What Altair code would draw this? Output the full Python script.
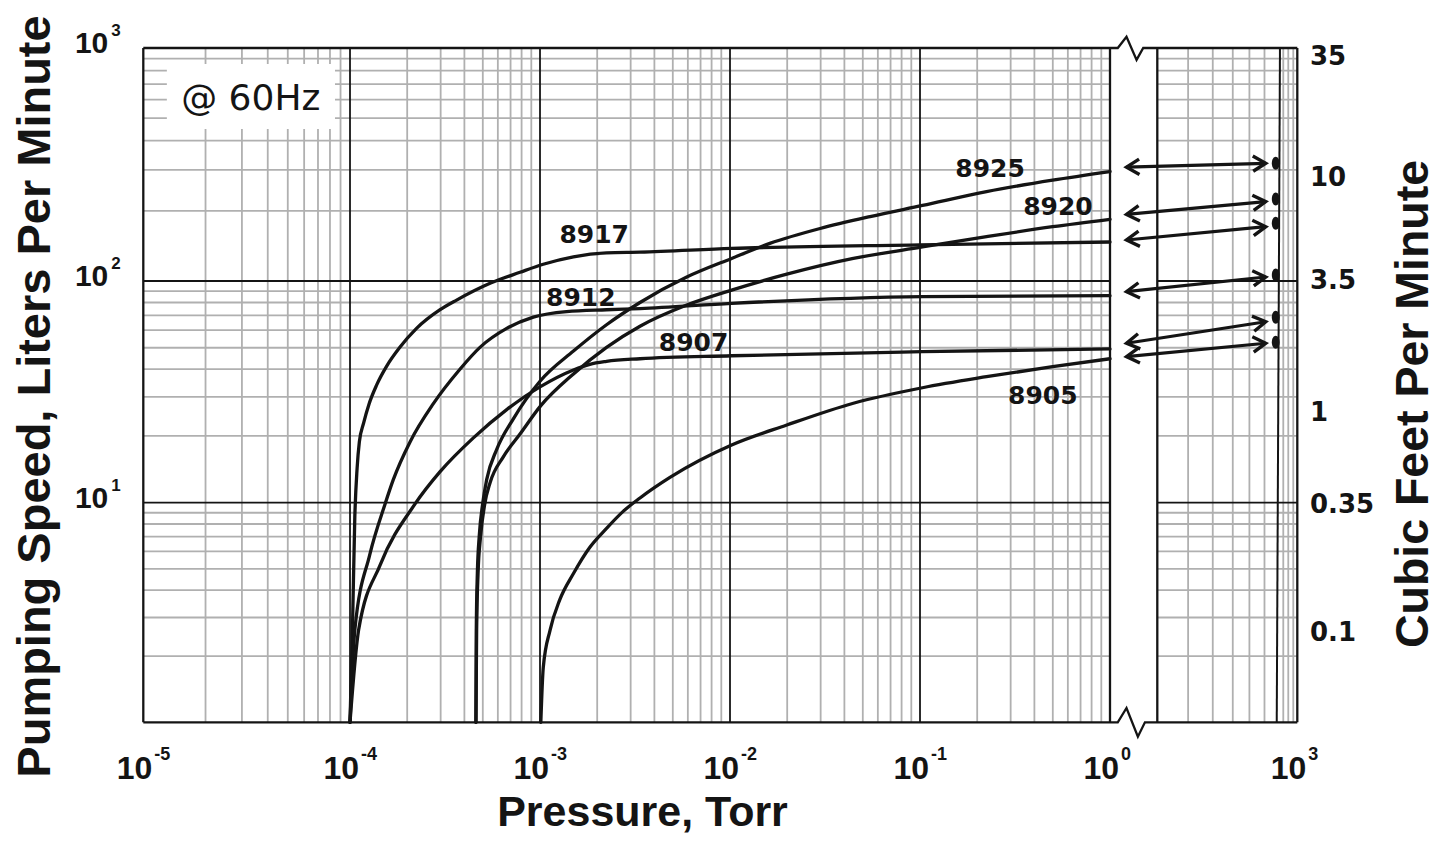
import math
import altair as alt
import pandas as pd

# ------------------------------------------------------------------ data
# pumping-speed curves: pressure (Torr) and speed (L/min)
P_8925 = [4.60e-4, 4.62e-4, 4.68e-4, 4.79e-4, 4.99e-4, 5.24e-4, 5.92e-4, 7.24e-4,
          1.00e-3, 1.50e-3, 2.24e-3, 3.36e-3, 5.92e-3, 1.02e-2, 1.62e-2,
          2.98e-2, 5.46e-2, 0.103, 0.224, 0.499, 1.0]
S_8925 = [1.0, 2.63, 4.76, 7.06, 9.87, 12.7, 17.4, 23.9, 35.3, 48.3, 63.5, 80.0,
          104, 125, 145, 168, 189, 211, 242, 271, 295]

P_8920 = [4.60e-4, 4.64e-4, 4.72e-4, 4.87e-4, 5.12e-4, 5.46e-4, 6.41e-4, 7.85e-4,
          1.01e-3, 1.50e-3, 2.24e-3, 3.36e-3, 5.92e-3, 1.02e-2, 1.99e-2,
          4.46e-2, 0.103, 0.224, 0.499, 1.0]
S_8920 = [1.0, 2.63, 4.76, 7.06, 9.87, 12.3, 16.1, 20.4, 27.4, 38.1, 50.2, 62.5,
          77.9, 91.0, 107, 125, 140, 155, 171, 184]

P_8917 = [1.00e-4, 1.03e-4, 1.06e-4, 1.09e-4, 1.12e-4, 1.18e-4, 1.26e-4, 1.38e-4,
          1.56e-4, 1.83e-4, 2.24e-4, 2.98e-4, 3.64e-4, 5.46e-4, 7.85e-4, 1.04e-3,
          1.50e-3, 2.24e-3, 3.36e-3, 1.02e-2, 0.1, 1.0]
S_8917 = [1.0, 2.63, 8.6, 14.3, 18.8, 22.9, 27.9, 33.9, 41.3, 50.2, 61.1, 74.2,
          82.0, 97.6, 109, 118, 127, 132, 133, 138, 143, 147]

P_8912 = [1.00e-4, 1.06e-4, 1.27e-4, 1.53e-4, 1.69e-4, 2.07e-4, 2.74e-4, 3.79e-4,
          4.83e-4, 6.68e-4, 9.22e-4, 1.38e-3, 2.24e-3, 3.36e-3, 1.02e-2, 0.103, 1.0]
S_8912 = [1.0, 2.63, 5.79, 9.87, 12.7, 18.8, 27.9, 40.0, 50.2, 61.1, 68.7, 72.8,
          74.2, 75.1, 79.3, 85.0, 85.9]

P_8907 = [1.00e-4, 1.11e-4, 1.44e-4, 2.20e-4, 2.98e-4, 4.46e-4, 6.68e-4, 1.00e-3,
          1.50e-3, 1.83e-3, 2.24e-3, 3.36e-3, 1.02e-2, 0.103, 1.0]
S_8907 = [1.0, 2.63, 5.2, 9.87, 13.8, 19.6, 26.3, 33.3, 39.7, 42.1, 43.4, 44.6,
          46.0, 48.0, 49.4]

P_8905 = [1.01e-3, 1.04e-3, 1.13e-3, 1.27e-3, 1.50e-3, 1.83e-3, 2.24e-3, 2.74e-3,
          3.36e-3, 4.83e-3, 1.02e-2, 1.99e-2, 4.46e-2, 0.103, 0.224, 0.499, 1.0]
S_8905 = [1.0, 1.77, 2.63, 3.61, 4.76, 6.27, 7.64, 9.13, 10.5, 13.0, 18.2, 22.4,
          28.1, 33.0, 37.0, 41.1, 44.6]

MODELS = ["8925", "8920", "8917", "8912", "8907", "8905"]
CURVES = {"8925": (P_8925, S_8925), "8920": (P_8920, S_8920),
          "8917": (P_8917, S_8917), "8912": (P_8912, S_8912),
          "8907": (P_8907, S_8907), "8905": (P_8905, S_8905)}

# curve label anchors (centre x, baseline y) in data units
LABEL_P = [0.2336, 0.532, 1.929e-3, 1.64e-3, 6.426e-3, 0.4429]
LABEL_S = [280, 192, 146, 77.2, 48.5, 27.9]

# double arrows from the 1 Torr end to the atmosphere dots
ARROW_LEFT_P = 5.0
ARROW_RIGHT_P = 595.0
ARROW_LEFT_S = [308, 193, 150, 89.5, 52.4, 45.6]
ARROW_RIGHT_S = [320, 219, 171, 104, 65.5, 52.4]
DOT_P = 701.0
DOT_S = [320, 225, 177, 106, 68.6, 52.9]
ATM_LINE_P = [752.0, 713.0]
ATM_LINE_S = [1000.0, 1.0]

# axes
X_TICKS = [1e-5, 1e-4, 1e-3, 1e-2, 1e-1, 1e0, 1e3]
X_EXP = ["-5", "-4", "-3", "-2", "-1", "0", "3"]
Y_TICKS = [1000, 100, 10]
Y_EXP = ["3", "2", "1"]
# right axis: cubic feet per minute labels and where they sit on the L/min scale
CFM_LABELS = ["35", "10", "3.5", "1", "0.35", "0.1"]
CFM_AT_LPM = [930, 280, 101, 25.7, 9.87, 2.59]

# grid
MINOR = [2, 3, 4, 5, 6, 7, 8, 9]
X_DECADES = [1e-5, 1e-4, 1e-3, 1e-2, 1e-1]
Y_DECADES = [1, 10, 100]
X_MAJOR = [1e-4, 1e-3, 1e-2, 1e-1]
Y_MAJOR = [10, 100]
RIGHT_MINOR_P = [166, 249, 346, 455, 583, 794, 862, 936]
FRAME_P = [1e-5, 1.0, 100.0, 1000.0]
SECTIONS = [(1e-5, 1.0), (100.0, 1000.0)]
BREAK_TOP_P = [2.13, 4.99, 13.3, 25.4]
BREAK_TOP_S = [1000, 1118, 889, 1000]
BREAK_BOT_P = [2.13, 4.99, 15.1, 30.0]
BREAK_BOT_S = [1, 1.162, 0.86, 1]

# ------------------------------------------------------------------ scales
W, H = 1154, 674
X_DOMAIN = [1e-5, 1e-4, 1.0, 100.0, 1000.0]
X_RANGE = [0, 206.7, 966.7, 1014, 1154]
Y_DOMAIN = [1.0, 10.0, 100.0, 1000.0]
Y_RANGE = [674.3, 454.7, 233, 0]

xscale = alt.Scale(type="log", domain=X_DOMAIN, range=X_RANGE, nice=False)
yscale = alt.Scale(type="log", domain=Y_DOMAIN, range=Y_RANGE, nice=False)


def X(f):
    return alt.X(f"{f}:Q", scale=xscale, axis=None)


def Y(f):
    return alt.Y(f"{f}:Q", scale=yscale, axis=None)


def piecewise(v, dom, rng):
    lv = math.log10(v)
    ld = [math.log10(d) for d in dom]
    for i in range(len(ld) - 1):
        if lv <= ld[i + 1] or i == len(ld) - 2:
            t = (lv - ld[i]) / (ld[i + 1] - ld[i])
            return rng[i] + t * (rng[i + 1] - rng[i])


GRAY = "#b0b0b0"
BLACK = "#141414"
BOLD = "Liberation Sans"
NUM = "DejaVu Sans"

# ------------------------------------------------------------------ layers
layers = []

# gray minor grid
hrows = [{"y": m * d, "x": a, "x2": b} for d in Y_DECADES for m in MINOR for (a, b) in SECTIONS]
layers.append(alt.Chart(pd.DataFrame(hrows)).mark_rule(color=GRAY, strokeWidth=1.8)
              .encode(x=X("x"), x2="x2:Q", y=Y("y")))
vvals = [m * d for d in X_DECADES for m in MINOR] + RIGHT_MINOR_P
vrows = [{"x": v, "y": 1.0, "y2": 1000.0} for v in vvals]
layers.append(alt.Chart(pd.DataFrame(vrows)).mark_rule(color=GRAY, strokeWidth=1.8)
              .encode(x=X("x"), y=Y("y"), y2="y2:Q"))

# black major grid
hmaj = [{"y": v, "x": a, "x2": b} for v in Y_MAJOR for (a, b) in SECTIONS]
layers.append(alt.Chart(pd.DataFrame(hmaj)).mark_rule(color=BLACK, strokeWidth=1.8)
              .encode(x=X("x"), x2="x2:Q", y=Y("y")))
vmaj = [{"x": v, "y": 1.0, "y2": 1000.0} for v in X_MAJOR]
layers.append(alt.Chart(pd.DataFrame(vmaj)).mark_rule(color=BLACK, strokeWidth=1.8)
              .encode(x=X("x"), y=Y("y"), y2="y2:Q"))

# frame verticals
vfr = [{"x": v, "y": 1.0, "y2": 1000.0} for v in FRAME_P]
layers.append(alt.Chart(pd.DataFrame(vfr)).mark_rule(color=BLACK, strokeWidth=2.3)
              .encode(x=X("x"), y=Y("y"), y2="y2:Q"))

# top and bottom frame with the axis-break zigzag
brows = []
top = [(1e-5, 1000.0)] + list(zip(BREAK_TOP_P, BREAK_TOP_S)) + [(1000.0, 1000.0)]
bot = [(1e-5, 1.0)] + list(zip(BREAK_BOT_P, BREAK_BOT_S)) + [(1000.0, 1.0)]
for g, pts in (("top", top), ("bot", bot)):
    for i, (p, s) in enumerate(pts):
        brows.append({"g": g, "x": p, "y": s, "o": i})
layers.append(alt.Chart(pd.DataFrame(brows))
              .mark_line(color=BLACK, strokeWidth=2.3, strokeJoin="miter")
              .encode(x=X("x"), y=Y("y"), detail="g:N", order="o:Q"))

# atmosphere line
layers.append(alt.Chart(pd.DataFrame({"x": [ATM_LINE_P[0]], "x2": [ATM_LINE_P[1]],
                                      "y": [ATM_LINE_S[0]], "y2": [ATM_LINE_S[1]]}))
              .mark_rule(color=BLACK, strokeWidth=2.0)
              .encode(x=X("x"), x2="x2:Q", y=Y("y"), y2="y2:Q"))

# "@ 60Hz" box
layers.append(alt.Chart(pd.DataFrame({"x": [1.30e-5], "x2": [8.46e-5], "y": [449.0], "y2": [854.0]}))
              .mark_rect(color="white")
              .encode(x=X("x"), x2="x2:Q", y=Y("y"), y2="y2:Q"))
layers.append(alt.Chart(pd.DataFrame({"x": [3.31e-5], "y": [542.0], "t": ["@ 60Hz"]}))
              .mark_text(font=NUM, fontSize=36, fontWeight="normal", color=BLACK,
                         align="center", baseline="alphabetic")
              .encode(x=X("x"), y=Y("y"), text="t:N"))

# curves
crows = []
for m in MODELS:
    ps, ss = CURVES[m]
    for i, (p, s) in enumerate(zip(ps, ss)):
        crows.append({"model": m, "p": p, "s": s, "o": i})
layers.append(alt.Chart(pd.DataFrame(crows))
              .mark_line(color=BLACK, strokeWidth=3.3, interpolate="monotone",
                         strokeCap="round", strokeJoin="round")
              .encode(x=X("p"), y=Y("s"), detail="model:N", order="o:Q"))

# arrows
arows = []
hl, hr = [], []
for m, sl, sr in zip(MODELS, ARROW_LEFT_S, ARROW_RIGHT_S):
    xl = piecewise(ARROW_LEFT_P, X_DOMAIN, X_RANGE)
    xr = piecewise(ARROW_RIGHT_P, X_DOMAIN, X_RANGE)
    yl = piecewise(sl, Y_DOMAIN, Y_RANGE)
    yr = piecewise(sr, Y_DOMAIN, Y_RANGE)
    ang = math.degrees(math.atan2(yr - yl, xr - xl)) % 360
    arows.append({"x": ARROW_LEFT_P, "x2": ARROW_RIGHT_P, "y": sl, "y2": sr})
    hl.append({"x": ARROW_LEFT_P, "y": sl, "a": ang})
    hr.append({"x": ARROW_RIGHT_P, "y": sr, "a": ang})
layers.append(alt.Chart(pd.DataFrame(arows)).mark_rule(color=BLACK, strokeWidth=3.2)
              .encode(x=X("x"), x2="x2:Q", y=Y("y"), y2="y2:Q"))
LEFT_HEAD = "M 1 -0.6 L 0 0 L 1 0.6"
RIGHT_HEAD = "M -1 -0.6 L 0 0 L -1 0.6"
for rows, shape in ((hl, LEFT_HEAD), (hr, RIGHT_HEAD)):
    layers.append(alt.Chart(pd.DataFrame(rows))
                  .mark_point(shape=shape, filled=False, size=650, color=BLACK,
                              strokeWidth=3.4, opacity=1, strokeJoin="miter")
                  .encode(x=X("x"), y=Y("y"), angle=alt.Angle("a:Q", scale=None)))

# atmosphere dots
ELLIPSE = ("M 0 -1 C 0.33 -1 0.6 -0.55 0.6 0 C 0.6 0.55 0.33 1 0 1 "
           "C -0.33 1 -0.6 0.55 -0.6 0 C -0.6 -0.55 -0.33 -1 0 -1 Z")
layers.append(alt.Chart(pd.DataFrame({"x": [DOT_P] * len(DOT_S), "y": DOT_S}))
              .mark_point(shape=ELLIPSE, filled=True, size=169, color=BLACK, opacity=1)
              .encode(x=X("x"), y=Y("y")))

# curve labels
layers.append(alt.Chart(pd.DataFrame({"x": LABEL_P, "y": LABEL_S, "t": MODELS}))
              .mark_text(font=NUM, fontSize=25, fontWeight="bold", color=BLACK,
                         align="center", baseline="alphabetic")
              .encode(x=X("x"), y=Y("y"), text="t:N"))

# x tick labels (10 with superscript exponent)
xt = pd.DataFrame({"x": X_TICKS, "b": ["10"] * len(X_TICKS), "e": X_EXP})
layers.append(alt.Chart(xt).mark_text(font=BOLD, fontSize=32, fontWeight="bold", color=BLACK,
                                      align="right", baseline="alphabetic", dx=9)
              .encode(x=X("x"), y=alt.value(731), text="b:N"))
layers.append(alt.Chart(xt).mark_text(font=BOLD, fontSize=18, fontWeight="bold", color=BLACK,
                                      align="left", baseline="alphabetic", dx=11)
              .encode(x=X("x"), y=alt.value(712), text="e:N"))

# left tick labels
yt = pd.DataFrame({"y": Y_TICKS, "b": ["10"] * len(Y_TICKS), "e": Y_EXP})
layers.append(alt.Chart(yt).mark_text(font=BOLD, fontSize=30, fontWeight="bold", color=BLACK,
                                      align="right", baseline="alphabetic", dy=5)
              .encode(x=alt.value(-35), y=Y("y"), text="b:N"))
layers.append(alt.Chart(yt).mark_text(font=BOLD, fontSize=17, fontWeight="bold", color=BLACK,
                                      align="left", baseline="alphabetic", dy=-12)
              .encode(x=alt.value(-32), y=Y("y"), text="e:N"))

# right (CFM) tick labels
rt = pd.DataFrame({"y": CFM_AT_LPM, "t": CFM_LABELS})
layers.append(alt.Chart(rt).mark_text(font=NUM, fontSize=26, fontWeight="bold", color=BLACK,
                                      align="left", baseline="alphabetic", dy=9.5)
              .encode(x=alt.value(1166.7), y=Y("y"), text="t:N"))

# titles
def title(text, x, y, size, angle=0):
    return (alt.Chart(pd.DataFrame({"t": [text]}))
            .mark_text(font=BOLD, fontSize=size, fontWeight="bold", color=BLACK,
                       align="center", baseline="alphabetic", angle=angle)
            .encode(x=alt.value(x), y=alt.value(y), text="t:N"))

layers.append(title("Pressure, Torr", 499.2, 778.5, 43))
layers.append(title("Pumping Speed, Liters Per Minute", -93.3, 348.5, 47, 270))
layers.append(title("Cubic Feet Per Minute", 1285, 356, 46.5, 270))

chart = (alt.layer(*layers)
         .properties(width=W, height=H,
                     autosize=alt.AutoSizeParams(type="none"),
                     padding={"left": 135.3, "top": 40, "right": 144, "bottom": 114},
                     background="white")
         .configure_view(stroke=None))

chart.save("out.html", embed_options={"renderer": "svg", "actions": False})
